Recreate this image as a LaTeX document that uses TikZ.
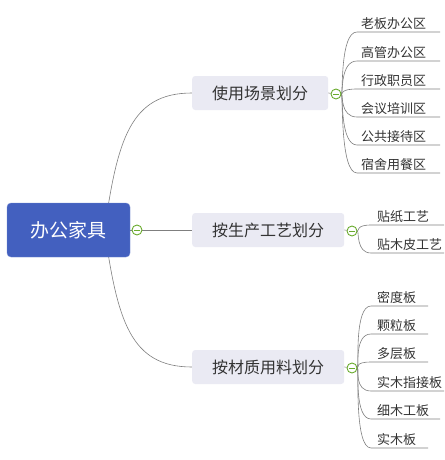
\documentclass[tikz,border=0pt]{standalone}
\usepackage{fontspec}
\setmainfont{Noto Sans CJK SC}
\usetikzlibrary{backgrounds}
\definecolor{rootblue}{HTML}{4360BF}
\definecolor{branchgray}{HTML}{EAEAF3}
\definecolor{linegray}{HTML}{7F7F7F}
\definecolor{togglegreen}{HTML}{6AAB2E}
\definecolor{textdark}{HTML}{333333}
\tikzset{
  rootbox/.style={rectangle, rounded corners=4pt, fill=rootblue, draw=rootblue!75!white, text=white,
    minimum width=123pt, minimum height=54pt, font=\fontsize{19}{19}\selectfont},
  branchbox/.style={rectangle, rounded corners=3pt, fill=branchgray, text=textdark, anchor=west,
    minimum height=34pt, font=\fontsize{16}{16}\selectfont},
  leaf/.style={anchor=south west, inner sep=1pt, text=textdark, font=\fontsize{13}{13}\selectfont},
  toggle/.style={circle, draw=togglegreen, line width=0.9pt, fill=white, minimum size=10pt, inner sep=0pt,
    path picture={\draw[togglegreen, line width=1pt]
      ([xshift=-2.6pt]path picture bounding box.center) -- ([xshift=2.6pt]path picture bounding box.center);}},
  link/.style={draw=linegray, line width=0.6pt},
}
\begin{document}
\begin{tikzpicture}[x=1pt,y=-1pt]
    \useasboundingbox (0,0) rectangle (444,460);
    % main topic and branches
    \node[rootbox] (root) at (68.5,230) {办公家具};
    \node[branchbox, minimum width=136pt] (scene) at (192,93) {使用场景划分};
    \node[branchbox, minimum width=152pt] (craft) at (192,230) {按生产工艺划分};
    \node[branchbox, minimum width=152pt] (material) at (192,367) {按材质用料划分};
    \node[toggle] (rootT) at (137,230) {};
    \node[toggle] (sceneT) at (336,94) {};
    \node[toggle] (craftT) at (352,231) {};
    \node[toggle] (materialT) at (352,368) {};
    % leaves: use scenes
    \foreach \y/\txt [count=\i] in {32/老板办公区, 61/高管办公区, 89/行政职员区, 117/会议培训区, 145/公共接待区, 173/宿舍用餐区} {
        \coordinate (s\i) at (357,\y);
        \coordinate (s\i e) at (440,\y);
        \node[leaf] (sl\i) at (360,\y-1) {\txt};
    }
    % leaves: craft
    \foreach \y/\txt [count=\i] in {225/贴纸工艺, 253/贴木皮工艺} {
        \coordinate (c\i) at (371,\y);
        \coordinate (c\i e) at (444,\y);
        \node[leaf] (cl\i) at (376,\y-1) {\txt};
    }
    % leaves: material
    \foreach \y/\len/\txt [count=\i] in {306/428/密度板, 334/428/颗粒板, 362/428/多层板, 391/444/实木指接板, 419/440/细木工板, 448/428/实木板} {
        \coordinate (m\i) at (371,\y);
        \coordinate (m\i e) at (\len,\y);
        \node[leaf] (ml\i) at (376,\y-1) {\txt};
    }
    \begin{scope}[on background layer]
        \draw[link] ([xshift=36pt]root.center) .. controls +(13,-90) and +(-62,0) .. (scene.west);
        \draw[link] ([xshift=36pt]root.center) .. controls +(13,90) and +(-62,0) .. (material.west);
        \draw[link] (root.east) -- (craft.west);
        \draw[link] (scene.east) -- (sceneT);
        \draw[link] (craft.east) -- (craftT);
        \draw[link] (material.east) -- (materialT);
        \foreach \i in {1,...,6}
            \draw[link] (sceneT) .. controls +(7,0) and +(-17,0) .. (s\i) -- (s\i e);
        \foreach \i in {1,2}
            \draw[link] (craftT) .. controls +(7,0) and +(-15,0) .. (c\i) -- (c\i e);
        \foreach \i in {1,...,6}
            \draw[link] (materialT) .. controls +(7,0) and +(-17,0) .. (m\i) -- (m\i e);
    \end{scope}
\end{tikzpicture}
\end{document}
